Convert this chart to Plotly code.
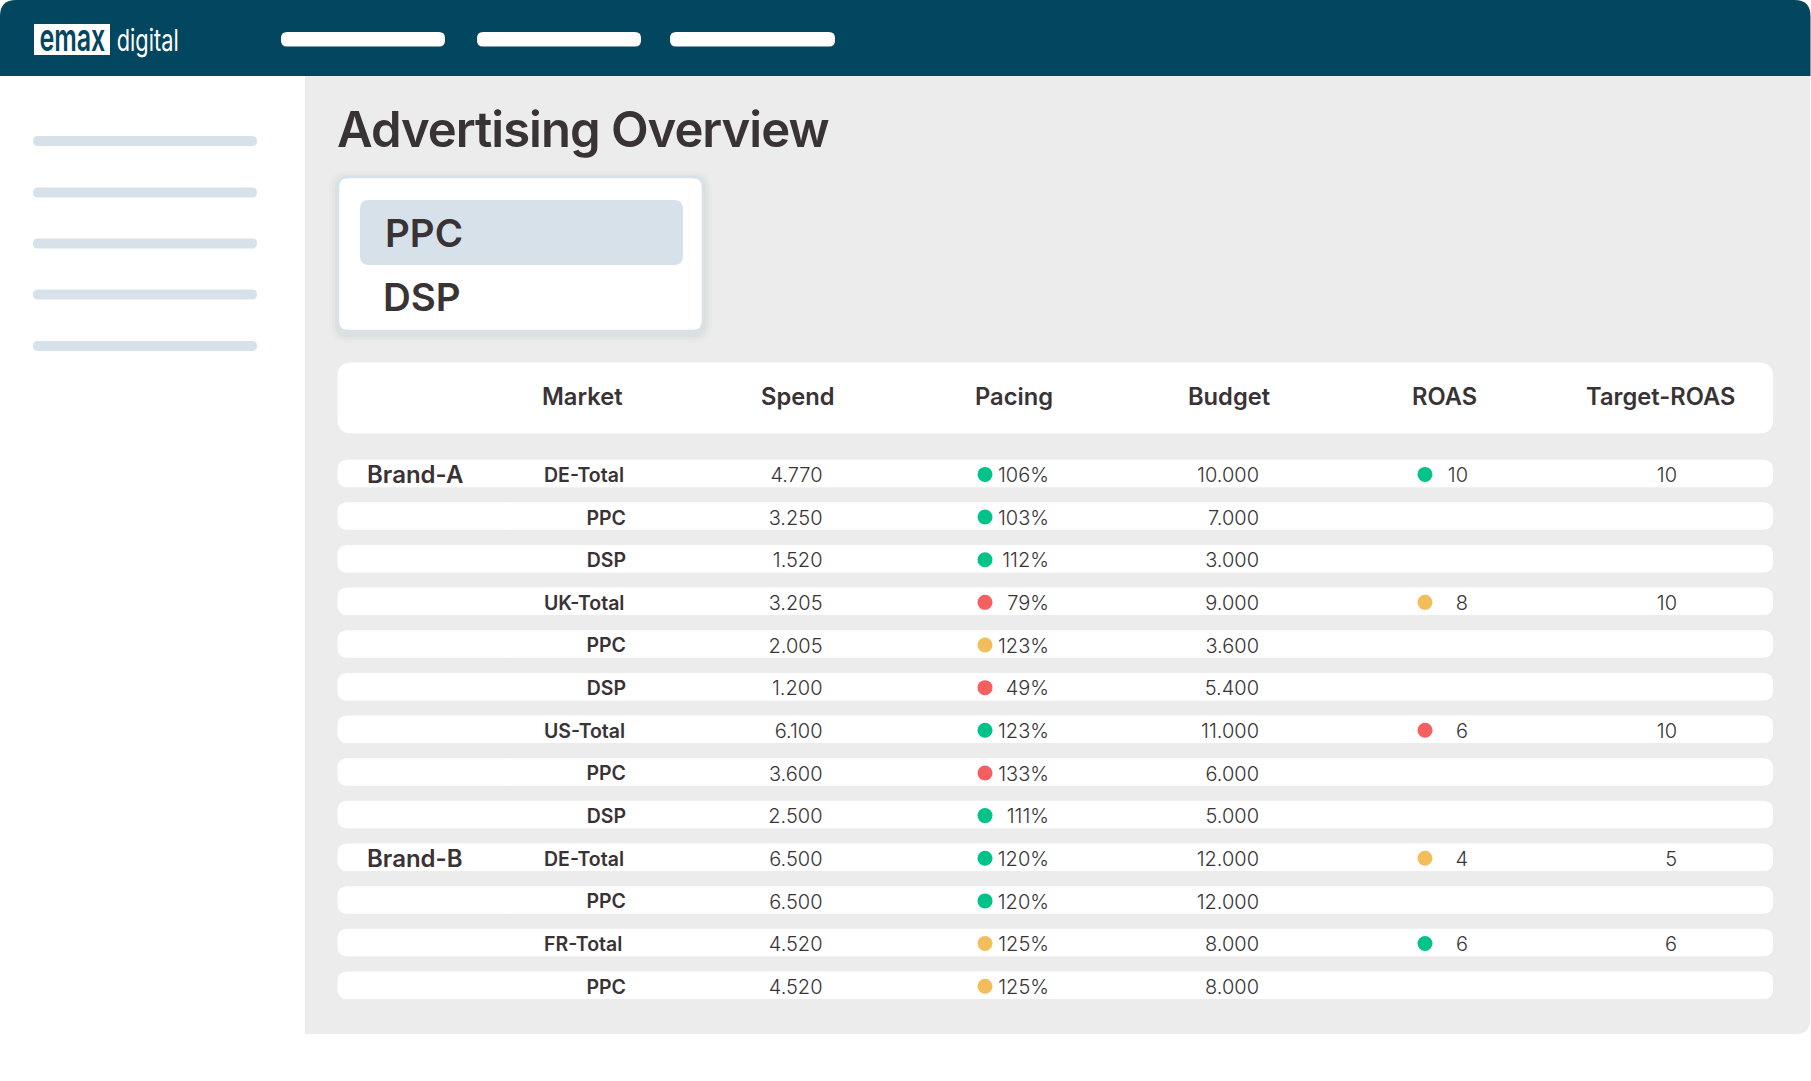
import plotly.graph_objects as go

# ---- data ----
brands = ["Brand-A", "", "", "", "", "", "", "", "", "Brand-B", "", "", ""]
markets = ["DE-Total", "PPC", "DSP", "UK-Total", "PPC", "DSP", "US-Total", "PPC", "DSP",
           "DE-Total", "PPC", "FR-Total", "PPC"]
spend = [4770, 3250, 1520, 3205, 2005, 1200, 6100, 3600, 2500, 6500, 6500, 4520, 4520]
pacing = [106, 103, 112, 79, 123, 49, 123, 133, 111, 120, 120, 125, 125]
pacing_status = ["g", "g", "g", "r", "a", "r", "g", "r", "g", "g", "g", "a", "a"]
budget = [10000, 7000, 3000, 9000, 3600, 5400, 11000, 6000, 5000, 12000, 12000, 8000, 8000]
roas = [10, None, None, 8, None, None, 6, None, None, 4, None, 6, None]
roas_status = ["g", None, None, "a", None, None, "r", None, None, "a", None, "g", None]
target_roas = [10, None, None, 10, None, None, 10, None, None, 5, None, 6, None]
columns = ["Market", "Spend", "Pacing", "Budget", "ROAS", "Target-ROAS"]
menu_items = ["PPC", "DSP"]
title_text = "Advertising Overview"

# ---- style / layout ----
W, H = 1811, 1081
INK = "#3A3335"
NAVY = "#03465F"
PANEL = "#ECECEC"
PILL = "#D7E1EA"
STATUS = {"g": "#00C389", "r": "#F45F5F", "a": "#F2BE5C"}
FONT = "Inter"
ROW0, PITCH, ROW_H = 473.4, 42.65, 27.5
TEXT_DY = 3.6 / PITCH
DOT_DY = 1.0 / PITCH
X = dict(brand=367, tot=544, sub=626, spend=822.5, pdot=985, pace=1049, budget=1259,
         rdot=1425, roas=1468, target=1677)
HEAD_X = [582, 797, 1013.5, 1229, 1444.5, 1660]


def rr(x0, y0, x1, y1, r=None, tl=None, tr=None, br=None, bl=None):
    tl = r if tl is None else tl
    tr = r if tr is None else tr
    br = r if br is None else br
    bl = r if bl is None else bl
    return (f"M{x0+tl},{y0} L{x1-tr},{y0} Q{x1},{y0} {x1},{y0+tr} L{x1},{y1-br} Q{x1},{y1} {x1-br},{y1} "
            f"L{x0+bl},{y1} Q{x0},{y1} {x0},{y1-bl} L{x0},{y0+tl} Q{x0},{y0} {x0+tl},{y0} Z")


def box(path, fill, opacity=1, line=None, lw=0):
    return dict(type="path", path=path, xref="x", yref="y", fillcolor=fill, opacity=opacity,
                line=dict(color=line or fill, width=lw), layer="below")


shapes = []
# panel and header
shapes.append(box(rr(305, 70, 1810, 1034, tl=0, tr=0, br=14, bl=0), PANEL))
shapes.append(box(rr(0, 0, 1810.5, 76, tl=16, tr=16, br=0, bl=0), NAVY))
# nav pills
for a, b in [(281, 445), (477, 641), (670, 835)]:
    shapes.append(box(rr(a, 32, b, 46.5, 6), "#FFFFFF"))
# sidebar pills
for t in [136, 187.5, 238.5, 289.5, 341]:
    shapes.append(box(rr(33, t, 257, t + 10, 5), PILL))
# logo box
shapes.append(box(rr(34, 24, 110, 55, 0), "#FFFFFF"))
# dropdown, soft shadow first
for g, o in [(9, 0.03), (6, 0.04), (3, 0.06)]:
    shapes.append(box(rr(338 - g, 177 - g + 3, 703 + g, 331 + g + 3, 10 + g), "#7F93A5", o))
shapes.append(box(rr(338, 177, 703, 331, 10), "#FFFFFF", line=PILL, lw=2.5))
shapes.append(box(rr(360, 200, 683, 265, 9), PILL))
# header row
shapes.append(box(rr(337.5, 362.5, 1773, 433.5, 14), "#FFFFFF"))
# data rows
for i in range(len(markets)):
    c = ROW0 + i * PITCH
    shapes.append(box(rr(337.5, c - ROW_H / 2, 1773, c + ROW_H / 2, 10), "#FFFFFF"))


def ann(x, y, text, size, weight=400, color=INK, anchor="left", family=FONT):
    return dict(x=x, y=y, xref="x", yref="y", text=text, showarrow=False, xanchor=anchor, yanchor="middle",
                borderpad=0, borderwidth=0, font=dict(family=family, size=size, color=color, weight=weight))


annotations = [
    ann(327, 129, title_text, 49, 600),
    ann(385, 233, menu_items[0], 38.5, 600),
    ann(383, 297, menu_items[1], 38.5, 600),
    ann(72.5, 36, "emax", 39, 600, NAVY, anchor="center"),
    ann(147, 40, "digital", 30, 400, "#FFFFFF", anchor="center"),
]
for hx, col in zip(HEAD_X, columns):
    annotations.append(ann(hx, 396, col, 23.7, 600, anchor="center"))

rows = list(range(len(markets)))
fmt = lambda v: f"{v:,}".replace(",", ".")
ROWAX = dict(xaxis="x", yaxis="y2", hoverinfo="skip", showlegend=False, cliponaxis=False)
TXT = dict(family=FONT, size=20, color=INK, weight=300)
BOLD = dict(family=FONT, size=19.5, color=INK, weight=600)

fig = go.Figure()
# brand names
bi = [i for i in rows if brands[i]]
fig.add_trace(go.Scatter(x=[X["brand"]] * len(bi), y=[i + TEXT_DY for i in bi], text=[brands[i] for i in bi],
                         mode="text", textposition="middle right",
                         textfont=dict(family=FONT, size=24, color=INK, weight=600), **ROWAX))
# market names: totals start at one edge, channels end at another
ti = [i for i in rows if markets[i].endswith("Total")]
si = [i for i in rows if not markets[i].endswith("Total")]
fig.add_trace(go.Scatter(x=[X["tot"]] * len(ti), y=[i + TEXT_DY for i in ti], text=[markets[i] for i in ti],
                         mode="text", textposition="middle right", textfont=BOLD, **ROWAX))
fig.add_trace(go.Scatter(x=[X["sub"]] * len(si), y=[i + TEXT_DY for i in si], text=[markets[i] for i in si],
                         mode="text", textposition="middle left", textfont=BOLD, **ROWAX))
# value columns
for key, vals, suffix in [("spend", spend, ""), ("pace", pacing, "%"), ("budget", budget, ""),
                          ("roas", roas, ""), ("target", target_roas, "")]:
    idx = [i for i in rows if vals[i] is not None]
    fig.add_trace(go.Scatter(x=[X[key]] * len(idx), y=[i + TEXT_DY for i in idx],
                             text=[fmt(vals[i]) + suffix for i in idx],
                             mode="text", textposition="middle left", textfont=TXT, **ROWAX))
# status dots
for key, stat in [("pdot", pacing_status), ("rdot", roas_status)]:
    idx = [i for i in rows if stat[i]]
    fig.add_trace(go.Scatter(x=[X[key]] * len(idx), y=[i + DOT_DY for i in idx], mode="markers",
                             marker=dict(size=15, color=[STATUS[stat[i]] for i in idx], line=dict(width=0)),
                             **ROWAX))

axis_off = dict(visible=False, showgrid=False, zeroline=False, fixedrange=True)
fig.update_layout(
    width=W, height=H, margin=dict(l=0, r=0, t=0, b=0), paper_bgcolor="#FFFFFF", plot_bgcolor="#FFFFFF",
    xaxis=dict(range=[0, W], **axis_off),
    yaxis=dict(range=[H, 0], **axis_off),
    yaxis2=dict(range=[(H - ROW0) / PITCH, -ROW0 / PITCH], overlaying="y", **axis_off),
    shapes=shapes, annotations=annotations, showlegend=False,
)
post = """
document.body.style.margin='0';document.body.style.overflow='hidden';
document.querySelectorAll('.annotation-text').forEach(function(t){
  var s=t.textContent, w=null;
  if(s==='Advertising Overview'){t.style.letterSpacing='-1px';}
  if(s==='emax'){w=66;}
  if(s==='digital'){w=62;}
  if(w){var b=t.getBBox(),c=b.x+b.width/2;
    t.setAttribute('transform','translate('+c+',0) scale('+(w/b.width)+',1) translate('+(-c)+',0)');}
});
"""
fig.write_html("out.html", config=dict(displayModeBar=False), post_script=post)
